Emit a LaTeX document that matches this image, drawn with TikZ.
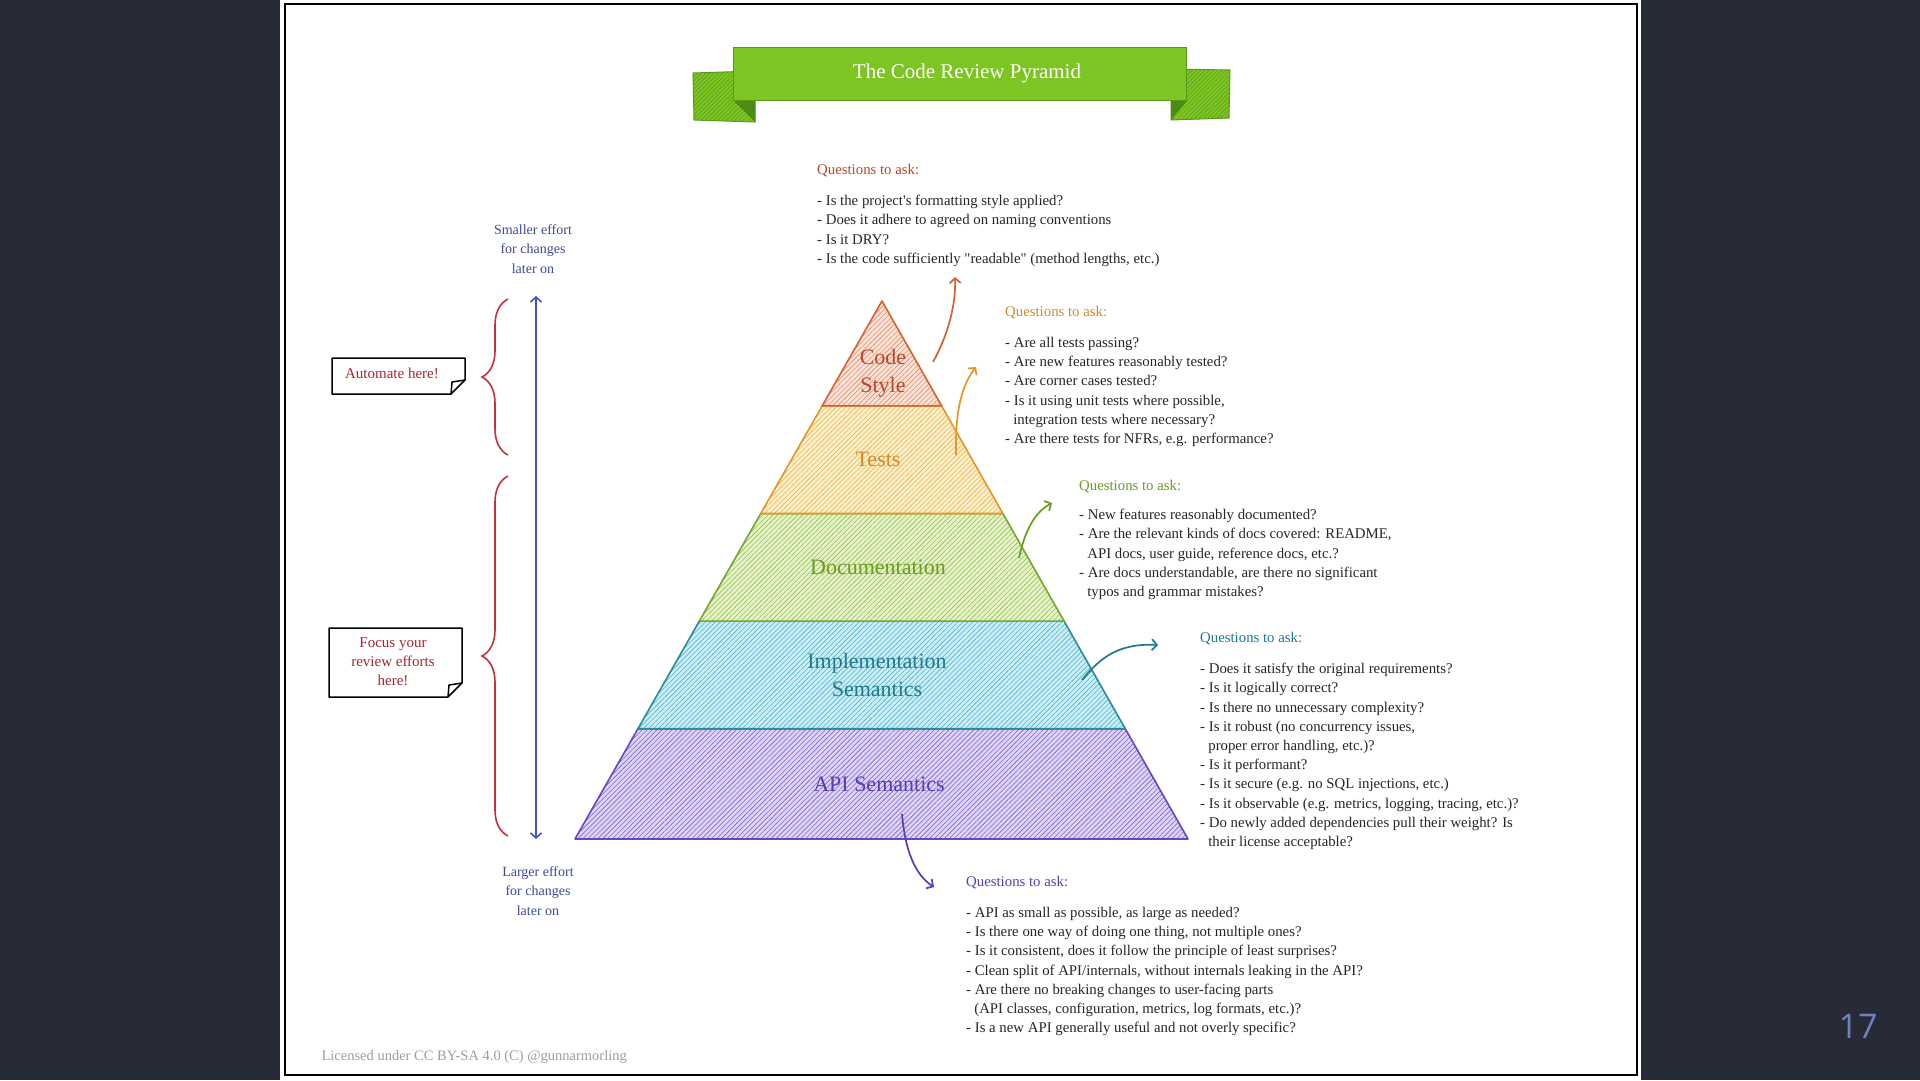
\documentclass[tikz,border=0pt]{standalone}
\usepackage{fontspec}
\setmainfont{Liberation Serif}[Ligatures=TeXOff]
\newfontfamily\slidefont{Open Sans}
\usetikzlibrary{arrows.meta,calc,patterns.meta,decorations.pathreplacing}

\definecolor{slidebg}{HTML}{272A37}
\definecolor{bannergreen}{HTML}{7DC522}
\definecolor{bannerdark}{HTML}{5A9A1A}
\definecolor{bannerfold}{HTML}{4E8A16}
\definecolor{qtext}{HTML}{262626}
% one set per level: border, tint, hatch, text
\definecolor{csline}{HTML}{D4622F}\definecolor{csfill}{HTML}{FBE3D8}\definecolor{cshatch}{HTML}{E08A6A}\definecolor{cstext}{HTML}{B8472B}
\definecolor{tsline}{HTML}{E6942B}\definecolor{tsfill}{HTML}{FDF0CC}\definecolor{tshatch}{HTML}{F0B24A}\definecolor{tstext}{HTML}{D4892A}
\definecolor{dcline}{HTML}{74A82A}\definecolor{dcfill}{HTML}{E6F2CC}\definecolor{dchatch}{HTML}{94C24A}\definecolor{dctext}{HTML}{6A9C1E}
\definecolor{imline}{HTML}{2B8A9C}\definecolor{imfill}{HTML}{CDEEF6}\definecolor{imhatch}{HTML}{49B4D0}\definecolor{imtext}{HTML}{1F7A8A}
\definecolor{apline}{HTML}{6548C0}\definecolor{apfill}{HTML}{DDD4F6}\definecolor{aphatch}{HTML}{7C62D2}\definecolor{aptext}{HTML}{5A3CB0}
\definecolor{effortblue}{HTML}{3D56C4}
\definecolor{efforttext}{HTML}{3D4A9A}
\definecolor{bracered}{HTML}{C2323B}
\definecolor{notetext}{HTML}{A8262F}

\begin{document}
\begin{tikzpicture}[
    x=1pt,y=-1pt,
    >={Straight Barb[length=5pt,width=11pt]},
    qhead/.style={anchor=west,inner sep=0pt,font=\fontsize{14.8}{19.2}\selectfont},
    qlist/.style={anchor=north west,inner sep=0pt,align=left,text=qtext,font=\fontsize{14.8}{19.2}\selectfont},
    layer/.style n args={3}{draw=#1,line width=1.6pt,line join=round,preaction={fill=#2},
        pattern={Lines[angle=45,distance=3.5pt,line width=.6pt]},pattern color=#3},
    lvl/.style={font=\fontsize{22}{28.5}\selectfont,align=center,inner sep=0pt},
    qarr/.style={->,line width=1.7pt},
    effort/.style={text=efforttext,align=center,inner sep=0pt,font=\fontsize{14}{19.5}\selectfont},
    notebox/.style={draw=black,line width=1.5pt,line join=round},
    note/.style={text=notetext,align=center,inner sep=0pt,font=\fontsize{15}{19}\selectfont},
    bracepath/.style={draw=bracered,line width=1.6pt,decorate,decoration={brace,amplitude=26pt}}
]
\useasboundingbox (0,0) rectangle (1920,1080);
\fill[slidebg] (0,0) rectangle (1920,1080);
\fill[white] (280,0) rectangle (1641,1080);
\draw[line width=2.2pt] (285,4) rectangle (1637,1075);

% banner
\filldraw[fill=bannergreen,draw=bannerdark,line width=1pt,pattern={Lines[angle=45,distance=3pt,line width=.5pt]},pattern color=bannerdark,preaction={fill=bannergreen}]
    (693,73) -- (755,71) -- (755,122) -- (694,120) -- cycle;
\filldraw[fill=bannergreen,draw=bannerdark,line width=1pt,pattern={Lines[angle=45,distance=3pt,line width=.5pt]},pattern color=bannerdark,preaction={fill=bannergreen}]
    (1171,69) -- (1230,70) -- (1229,118) -- (1171,120) -- cycle;
\fill[bannerfold] (734,101) -- (755,101) -- (755,122) -- cycle;
\fill[bannerfold] (1171,101) -- (1187,101) -- (1171,120) -- cycle;
\node[fill=bannergreen,draw=bannerdark,line width=1.5pt,minimum width=453pt,minimum height=53pt] (banner) at (960,74) {};
\node[text=white,font=\fontsize{21}{25}\selectfont] (title) at (967,73) {The Code Review Pyramid};

% pyramid
\coordinate (apex) at (882,301);
\coordinate (bl) at (575,839);
\coordinate (br) at (1188,839);
\draw[layer={apline}{apfill}{aphatch}] ($(apex)!.795!(bl)$) -- ($(apex)!.795!(br)$) -- (br) -- (bl) -- cycle;
\draw[layer={imline}{imfill}{imhatch}] ($(apex)!.595!(bl)$) -- ($(apex)!.595!(br)$) -- ($(apex)!.795!(br)$) -- ($(apex)!.795!(bl)$) -- cycle;
\draw[layer={dcline}{dcfill}{dchatch}] ($(apex)!.395!(bl)$) -- ($(apex)!.395!(br)$) -- ($(apex)!.595!(br)$) -- ($(apex)!.595!(bl)$) -- cycle;
\draw[layer={tsline}{tsfill}{tshatch}] ($(apex)!.195!(bl)$) -- ($(apex)!.195!(br)$) -- ($(apex)!.395!(br)$) -- ($(apex)!.395!(bl)$) -- cycle;
\draw[layer={csline}{csfill}{cshatch}] (apex) -- ($(apex)!.195!(br)$) -- ($(apex)!.195!(bl)$) -- cycle;

\node[lvl,text=cstext] (cs) at (883,373) {Code\\Style};
\node[lvl,text=tstext] (tests) at (878,459) {Tests};
\node[lvl,text=dctext] (docs) at (878,567) {Documentation};
\node[lvl,text=imtext] (impl) at (877,675) {Implementation\\Semantics};
\node[lvl,text=aptext] (api) at (879,784) {API Semantics};

% questions
\node[qhead,text=cstext] (cs-q) at (817,171) {Questions to ask:};
\node[qlist] (cs-list) at (817,195) {- Is the project's formatting style applied?\\- Does it adhere to agreed on naming conventions\\- Is it DRY?\\- Is the code sufficiently "readable" (method lengths, etc.)};

\node[qhead,text=tstext] (tests-q) at (1005,313) {Questions to ask:};
\node[qlist] (tests-list) at (1005,337) {- Are all tests passing?\\- Are new features reasonably tested?\\- Are corner cases tested?\\- Is it using unit tests where possible,\\\hspace*{.55em}integration tests where necessary?\\- Are there tests for NFRs, e.g. performance?};

\node[qhead,text=dctext] (docs-q) at (1079,487) {Questions to ask:};
\node[qlist] (docs-list) at (1079,509) {- New features reasonably documented?\\- Are the relevant kinds of docs covered: README,\\\hspace*{.55em}API docs, user guide, reference docs, etc.?\\- Are docs understandable, are there no significant\\\hspace*{.55em}typos and grammar mistakes?};

\node[qhead,text=imtext] (impl-q) at (1200,639) {Questions to ask:};
\node[qlist] (impl-list) at (1200,663) {- Does it satisfy the original requirements?\\- Is it logically correct?\\- Is there no unnecessary complexity?\\- Is it robust (no concurrency issues,\\\hspace*{.55em}proper error handling, etc.)?\\- Is it performant?\\- Is it secure (e.g. no SQL injections, etc.)\\- Is it observable (e.g. metrics, logging, tracing, etc.)?\\- Do newly added dependencies pull their weight? Is\\\hspace*{.55em}their license acceptable?};

\node[qhead,text=aptext] (api-q) at (966,883) {Questions to ask:};
\node[qlist] (api-list) at (966,907) {- API as small as possible, as large as needed?\\- Is there one way of doing one thing, not multiple ones?\\- Is it consistent, does it follow the principle of least surprises?\\- Clean split of API/internals, without internals leaking in the API?\\- Are there no breaking changes to user-facing parts\\\hspace*{.55em}(API classes, configuration, metrics, log formats, etc.)?\\- Is a new API generally useful and not overly specific?};

% arrows out of the levels
\coordinate (cs-from) at (933,362);     \coordinate (cs-to) at (955,277);
\coordinate (tests-from) at (956,455);  \coordinate (tests-to) at (976,367);
\coordinate (docs-from) at (1019,558);  \coordinate (docs-to) at (1052,503);
\coordinate (impl-from) at (1082,680);  \coordinate (impl-to) at (1158,645);
\coordinate (api-from) at (902,814);    \coordinate (api-to) at (934,887);
\draw[qarr,csline] (cs-from) .. controls (948,335) and (956,305) .. (cs-to);
\draw[qarr,tsline] (tests-from) .. controls (955,410) and (962,385) .. (tests-to);
\draw[qarr,dctext] (docs-from) .. controls (1025,530) and (1035,512) .. (docs-to);
\draw[qarr,imtext] (impl-from) .. controls (1100,658) and (1118,643) .. (impl-to);
\draw[qarr,aptext] (api-from) .. controls (905,850) and (915,875) .. (api-to);

% effort scale
\node[effort] (smaller) at (533,249) {Smaller effort\\for changes\\later on};
\node[effort] (larger) at (538,891) {Larger effort\\for changes\\later on};
\coordinate (scale-top) at (536,296);
\coordinate (scale-bot) at (536,839);
\draw[<->,effortblue,line width=1.6pt] (scale-top) -- (scale-bot);

\draw[bracepath] (508,455) -- (508,299);
\draw[bracepath] (508,836) -- (508,476);

% notes
\coordinate (automate-nw) at (332,358);
\coordinate (automate-se) at (465,394);
\node[note] (automate) at (392,373) {Automate here!};
\draw[notebox] (automate-nw) -| ($(automate-se)+(0,-14)$) -- ($(automate-se)+(-14,0)$) -| cycle;
\draw[notebox] ($(automate-se)+(-14,0)$) -- ($(automate-se)+(-13,-12)$) -- ($(automate-se)+(0,-14)$);
\coordinate (focus-nw) at (329,628);
\coordinate (focus-se) at (462,697);
\node[note] (focus) at (393,662) {Focus your\\review efforts\\here!};
\draw[notebox] (focus-nw) -| ($(focus-se)+(0,-14)$) -- ($(focus-se)+(-14,0)$) -| cycle;
\draw[notebox] ($(focus-se)+(-14,0)$) -- ($(focus-se)+(-13,-12)$) -- ($(focus-se)+(0,-14)$);

\node[anchor=west,text=black!38,font=\fontsize{14.5}{17}\selectfont] (licence) at (318,1057) {Licensed under CC BY-SA 4.0 (C) @gunnarmorling};
\node[text={rgb,255:red,111;green,130;blue,191},font=\slidefont\fontsize{34}{40}\selectfont] (pagenum) at (1858,1026) {17};
\end{tikzpicture}
\end{document}
